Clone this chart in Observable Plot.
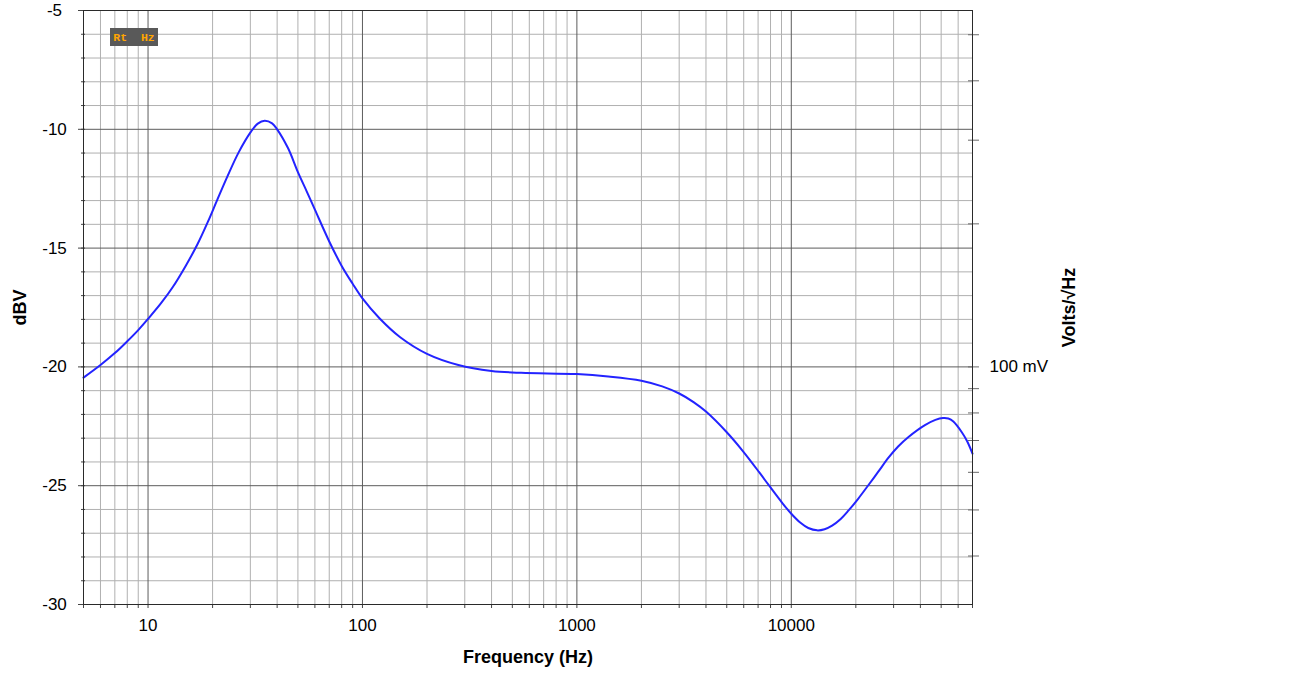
<!DOCTYPE html>
<html><head><meta charset="utf-8">
<script src="https://cdn.jsdelivr.net/npm/d3@7"></script>
<script src="https://cdn.jsdelivr.net/npm/@observablehq/plot@0.6"></script>
<style>body{margin:0;background:#fff} svg{display:block}</style>
</head><body><div id="chart"></div>
<script>
// Spectrum readings (Hz, dBV)
const freqHz = [5, 6, 7, 8, 9, 10, 11.5, 13, 15, 17, 19, 21, 23.4, 26.5, 30.1, 32.5, 35, 37.9, 40, 45, 50, 55, 60, 70, 80, 90, 100, 120, 150, 200, 280, 400, 550, 1000, 1400, 2000, 2500, 3000, 3500, 4000, 5000, 5918, 7080, 7870, 9083, 10000, 11000, 12000, 13200, 14300, 15500, 17000, 18500, 20500, 23000, 25500, 28400, 31500, 35200, 42000, 47000, 51000, 54000, 57000, 62400, 66000, 70000];
const levelDbV = [-20.45, -19.92, -19.42, -18.92, -18.45, -17.98, -17.32, -16.66, -15.74, -14.84, -13.9, -12.98, -12.0, -10.96, -10.12, -9.76, -9.64, -9.75, -10.0, -10.8, -11.8, -12.62, -13.38, -14.72, -15.75, -16.5, -17.12, -17.95, -18.75, -19.45, -19.92, -20.17, -20.25, -20.3, -20.4, -20.58, -20.82, -21.12, -21.48, -21.88, -22.75, -23.52, -24.43, -24.99, -25.73, -26.18, -26.55, -26.78, -26.88, -26.83, -26.68, -26.4, -26.04, -25.55, -24.95, -24.4, -23.82, -23.35, -22.95, -22.45, -22.23, -22.15, -22.17, -22.3, -22.75, -23.12, -23.65];

const xDomain = [5, 70000];
const yDomain = [-30, -5];
const xTickLabels = [10, 100, 1000, 10000];
const yTickLabels = [-5, -10, -15, -20, -25, -30];
const voltTicks = [0.5, 0.4, 0.3, 0.2, 0.1, 0.09, 0.08, 0.07, 0.06, 0.05, 0.04];
const rightLabelVolts = 0.1;
const rightLabelText = "100 mV";
const xTitle = "Frequency (Hz)";
const yTitle = "dBV";
const y2Title = "Volts/√Hz";
const badgeText = "Rt  Hz";

const data = freqHz.map((f, i) => ({f, db: levelDbV[i]}));

const allX = [];
for (let p = 0; p <= 4; p++) for (let k = 1; k <= 9; k++) {
  const v = k * Math.pow(10, p);
  if (v >= xDomain[0] && v <= xDomain[1]) allX.push(v);
}
const minorX = allX.filter(v => !xTickLabels.includes(v));
const allY = d3.range(yDomain[0], yDomain[1] + 1);
const minorY = allY.filter(v => v % 5 !== 0);
const toDb = v => 20 * Math.log10(v);

const font = "'Liberation Sans', Arial, sans-serif";

const chart = Plot.plot({
  width: 1289, height: 698,
  marginLeft: 83, marginRight: 317, marginTop: 10, marginBottom: 94,
  style: {fontFamily: font, fontSize: "17px", background: "#fff"},
  x: {type: "log", domain: xDomain, axis: null},
  y: {domain: yDomain, axis: null},
  marks: [
    Plot.ruleX(minorX, {stroke: "#b0b0b0", strokeWidth: 1}),
    Plot.ruleY(minorY, {stroke: "#b0b0b0", strokeWidth: 1}),
    Plot.ruleX(xTickLabels, {stroke: "#5c5c5c", strokeWidth: 1}),
    Plot.ruleY(yTickLabels, {stroke: "#5c5c5c", strokeWidth: 1}),
    Plot.axisX(allX, {tickSize: 4, tickFormat: () => "", stroke: "#444", label: null}),
    Plot.axisY(allY, {anchor: "left", tickSize: 4, dx: 2, tickFormat: () => "", stroke: "#444", label: null}),
    Plot.axisY(yTickLabels, {anchor: "left", tickSize: 5, tickFormat: () => "", stroke: "#444", label: null}),
    Plot.axisY(voltTicks.map(toDb), {anchor: "right", tickSize: 11, dx: -5, tickFormat: () => "", stroke: "#6a6a6a", label: null}),
    Plot.line(data, {x: "f", y: "db", stroke: "#2323ff", strokeWidth: 2, curve: "catmull-rom"}),
    Plot.frame({stroke: "#2a2a2a"}),
    Plot.text(yTickLabels, {y: d => d, text: d => String(d), frameAnchor: "left", dx: -29, textAnchor: "middle", lineAnchor: "middle", fontSize: 17, fill: "#000"}),
    Plot.text(xTickLabels, {x: d => d, text: d => String(d), frameAnchor: "bottom", dy: 21, lineAnchor: "middle", textAnchor: "middle", fontSize: 17, fill: "#000"}),
    Plot.text([rightLabelText], {y: () => toDb(rightLabelVolts), text: d => d, frameAnchor: "right", dx: 17, textAnchor: "start", lineAnchor: "middle", fontSize: 17, fill: "#000"}),
    Plot.text([xTitle], {text: d => d, frameAnchor: "bottom", dy: 53, lineAnchor: "middle", textAnchor: "middle", fontSize: 18, fontWeight: "bold", fill: "#000"}),
    Plot.text([yTitle], {text: d => d, frameAnchor: "left", dx: -63, rotate: -90, textAnchor: "middle", lineAnchor: "middle", fontSize: 18, fontWeight: "bold", fill: "#000"}),
    Plot.text([y2Title], {text: d => d, frameAnchor: "right", dx: 97, rotate: -90, textAnchor: "middle", lineAnchor: "middle", fontSize: 18, fontWeight: "bold", fill: "#000"}),
    (index, scales, values, dims) => {
      const g = d3.create("svg:g");
      const x0 = dims.marginLeft + 27, y0 = dims.marginTop + 18;
      g.append("rect").attr("x", x0).attr("y", y0).attr("width", 48).attr("height", 18).attr("fill", "#595959");
      g.append("text").attr("x", x0 + 24).attr("y", y0 + 9).attr("dy", "0.35em")
        .attr("text-anchor", "middle").attr("fill", "#ffa500")
        .attr("font-family", "'Liberation Mono', 'DejaVu Sans Mono', monospace")
        .attr("font-weight", "bold").attr("font-size", 11.5)
        .attr("xml:space", "preserve").style("white-space", "pre").text(badgeText);
      return g.node();
    }
  ]
});
document.getElementById("chart").appendChild(chart);
</script>
</body></html>
